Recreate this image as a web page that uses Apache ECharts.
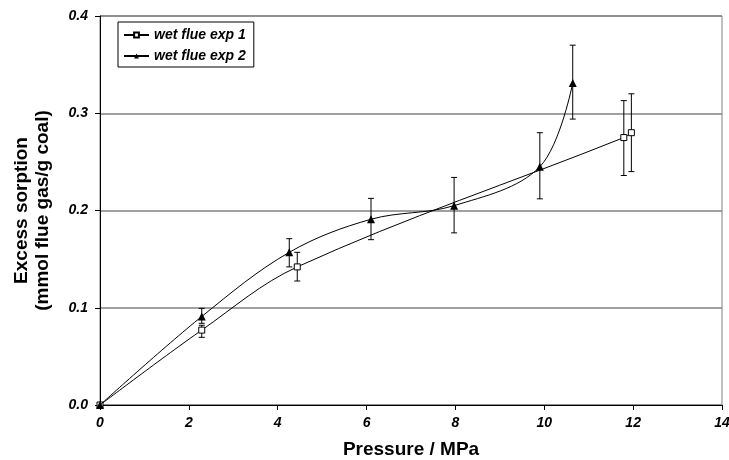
<!DOCTYPE html>
<html>
<head>
<meta charset="utf-8">
<script src="https://cdn.jsdelivr.net/npm/echarts@6/dist/echarts.min.js"></script>
<style>
  html, body { margin: 0; padding: 0; background: #fff; }
  #chart { width: 729px; height: 460px; }
</style>
</head>
<body>
<div id="chart"></div>
<script>
// Excess sorption of wet flue gas on coal vs. pressure, two experiments
const exp1Pressure = [0, 2.29, 4.44, 11.79, 11.96];
const exp1Sorption = [0, 0.077, 0.142, 0.275, 0.280];
const exp1Low      = [0, 0.0696, 0.1275, 0.236, 0.240];
const exp1High     = [0, 0.082, 0.157, 0.313, 0.320];

const exp2Pressure = [0, 2.29, 4.26, 6.10, 7.97, 9.90, 10.64];
const exp2Sorption = [0, 0.091, 0.157, 0.191, 0.205, 0.245, 0.331];
const exp2Low      = [0, 0.084, 0.142, 0.170, 0.177, 0.212, 0.294];
const exp2High     = [0, 0.0994, 0.171, 0.2125, 0.234, 0.280, 0.370];

const seriesNames = ['wet flue exp 1', 'wet flue exp 2'];
const xTicks = [0, 2, 4, 6, 8, 10, 12, 14];
const yTicks = [0.0, 0.1, 0.2, 0.3, 0.4];

const FONT = '"Liberation Sans", Arial, sans-serif';

function pairs(xs, ys) { return xs.map((x, i) => [x, ys[i]]); }
function bars(xs, lo, hi) {
  return xs.map((x, i) => [x, lo[i], hi[i]]).filter(d => d[2] > d[1]);
}

// Vertical error bar with short caps at both ends
function renderErrorBar(params, api) {
  const x = api.value(0);
  const top = api.coord([x, api.value(2)]);
  const bot = api.coord([x, api.value(1)]);
  const cap = 3;
  const style = { stroke: '#000', lineWidth: 1 };
  return {
    type: 'group',
    children: [
      { type: 'line', shape: { x1: top[0], y1: top[1], x2: bot[0], y2: bot[1] }, style },
      { type: 'line', shape: { x1: top[0] - cap, y1: top[1], x2: top[0] + cap, y2: top[1] }, style },
      { type: 'line', shape: { x1: bot[0] - cap, y1: bot[1], x2: bot[0] + cap, y2: bot[1] }, style }
    ]
  };
}

const chart = echarts.init(document.getElementById('chart'), null, { renderer: 'canvas' });

chart.setOption({
  animation: false,
  backgroundColor: '#fff',
  textStyle: { fontFamily: FONT },
  grid: {
    left: 100, right: 7, top: 16, bottom: 55,
    outerBoundsMode: 'none',
    containLabel: false,
    show: true, borderColor: '#808080', borderWidth: 1
  },
  legend: {
    data: seriesNames,
    orient: 'vertical',
    left: 118,
    top: 22,
    itemWidth: 25,
    itemHeight: 6,
    itemGap: 7,
    padding: [6, 8, 4, 5],
    borderColor: '#000',
    borderWidth: 1,
    backgroundColor: '#fff',
    textStyle: { fontFamily: FONT, fontSize: 14, fontWeight: 'bold', fontStyle: 'italic', color: '#000' }
  },
  xAxis: {
    type: 'value',
    min: xTicks[0],
    max: xTicks[xTicks.length - 1],
    interval: 2,
    name: 'Pressure / MPa',
    nameLocation: 'middle',
    nameGap: 35,
    nameTextStyle: { fontFamily: FONT, fontSize: 19, fontWeight: 'bold', color: '#000' },
    axisLine: { lineStyle: { color: '#000', width: 1 } },
    axisTick: { show: true, length: 5, lineStyle: { color: '#000' } },
    axisLabel: { fontFamily: FONT, fontSize: 14, fontWeight: 'bold', fontStyle: 'italic', color: '#000', margin: 11 },
    splitLine: { show: false }
  },
  yAxis: {
    type: 'value',
    min: yTicks[0],
    max: yTicks[yTicks.length - 1],
    interval: 0.1,
    name: 'Excess sorption\n(mmol flue gas/g coal)',
    nameLocation: 'middle',
    nameGap: 47,
    nameTextStyle: { fontFamily: FONT, fontSize: 19, fontWeight: 'bold', color: '#000', lineHeight: 21 },
    axisLine: { show: true, lineStyle: { color: '#000', width: 1 } },
    axisTick: { show: true, length: 5, lineStyle: { color: '#000' } },
    axisLabel: { fontFamily: FONT, fontSize: 14, fontWeight: 'bold', fontStyle: 'italic', color: '#000', margin: 12,
                 formatter: v => v.toFixed(1) },
    splitLine: { show: true, lineStyle: { color: '#808080', width: 1.5 } }
  },
  series: [
    {
      name: seriesNames[0],
      type: 'line',
      data: pairs(exp1Pressure, exp1Sorption),
      smooth: 0.35,
      symbol: 'rect',
      symbolSize: 6,
      lineStyle: { color: '#000', width: 1 },
      itemStyle: { color: '#fff', borderColor: '#000', borderWidth: 1 },
      z: 4
    },
    {
      name: seriesNames[1],
      type: 'line',
      data: pairs(exp2Pressure, exp2Sorption),
      smooth: 0.35,
      symbol: 'triangle',
      symbolSize: 8,
      lineStyle: { color: '#000', width: 1 },
      itemStyle: { color: '#000', borderColor: '#000', borderWidth: 0 },
      z: 5
    },
    {
      name: seriesNames[0],
      type: 'custom',
      renderItem: renderErrorBar,
      data: bars(exp1Pressure, exp1Low, exp1High),
      z: 3,
      silent: true
    },
    {
      name: seriesNames[1],
      type: 'custom',
      renderItem: renderErrorBar,
      data: bars(exp2Pressure, exp2Low, exp2High),
      z: 3,
      silent: true
    }
  ]
});
</script>
</body>
</html>
